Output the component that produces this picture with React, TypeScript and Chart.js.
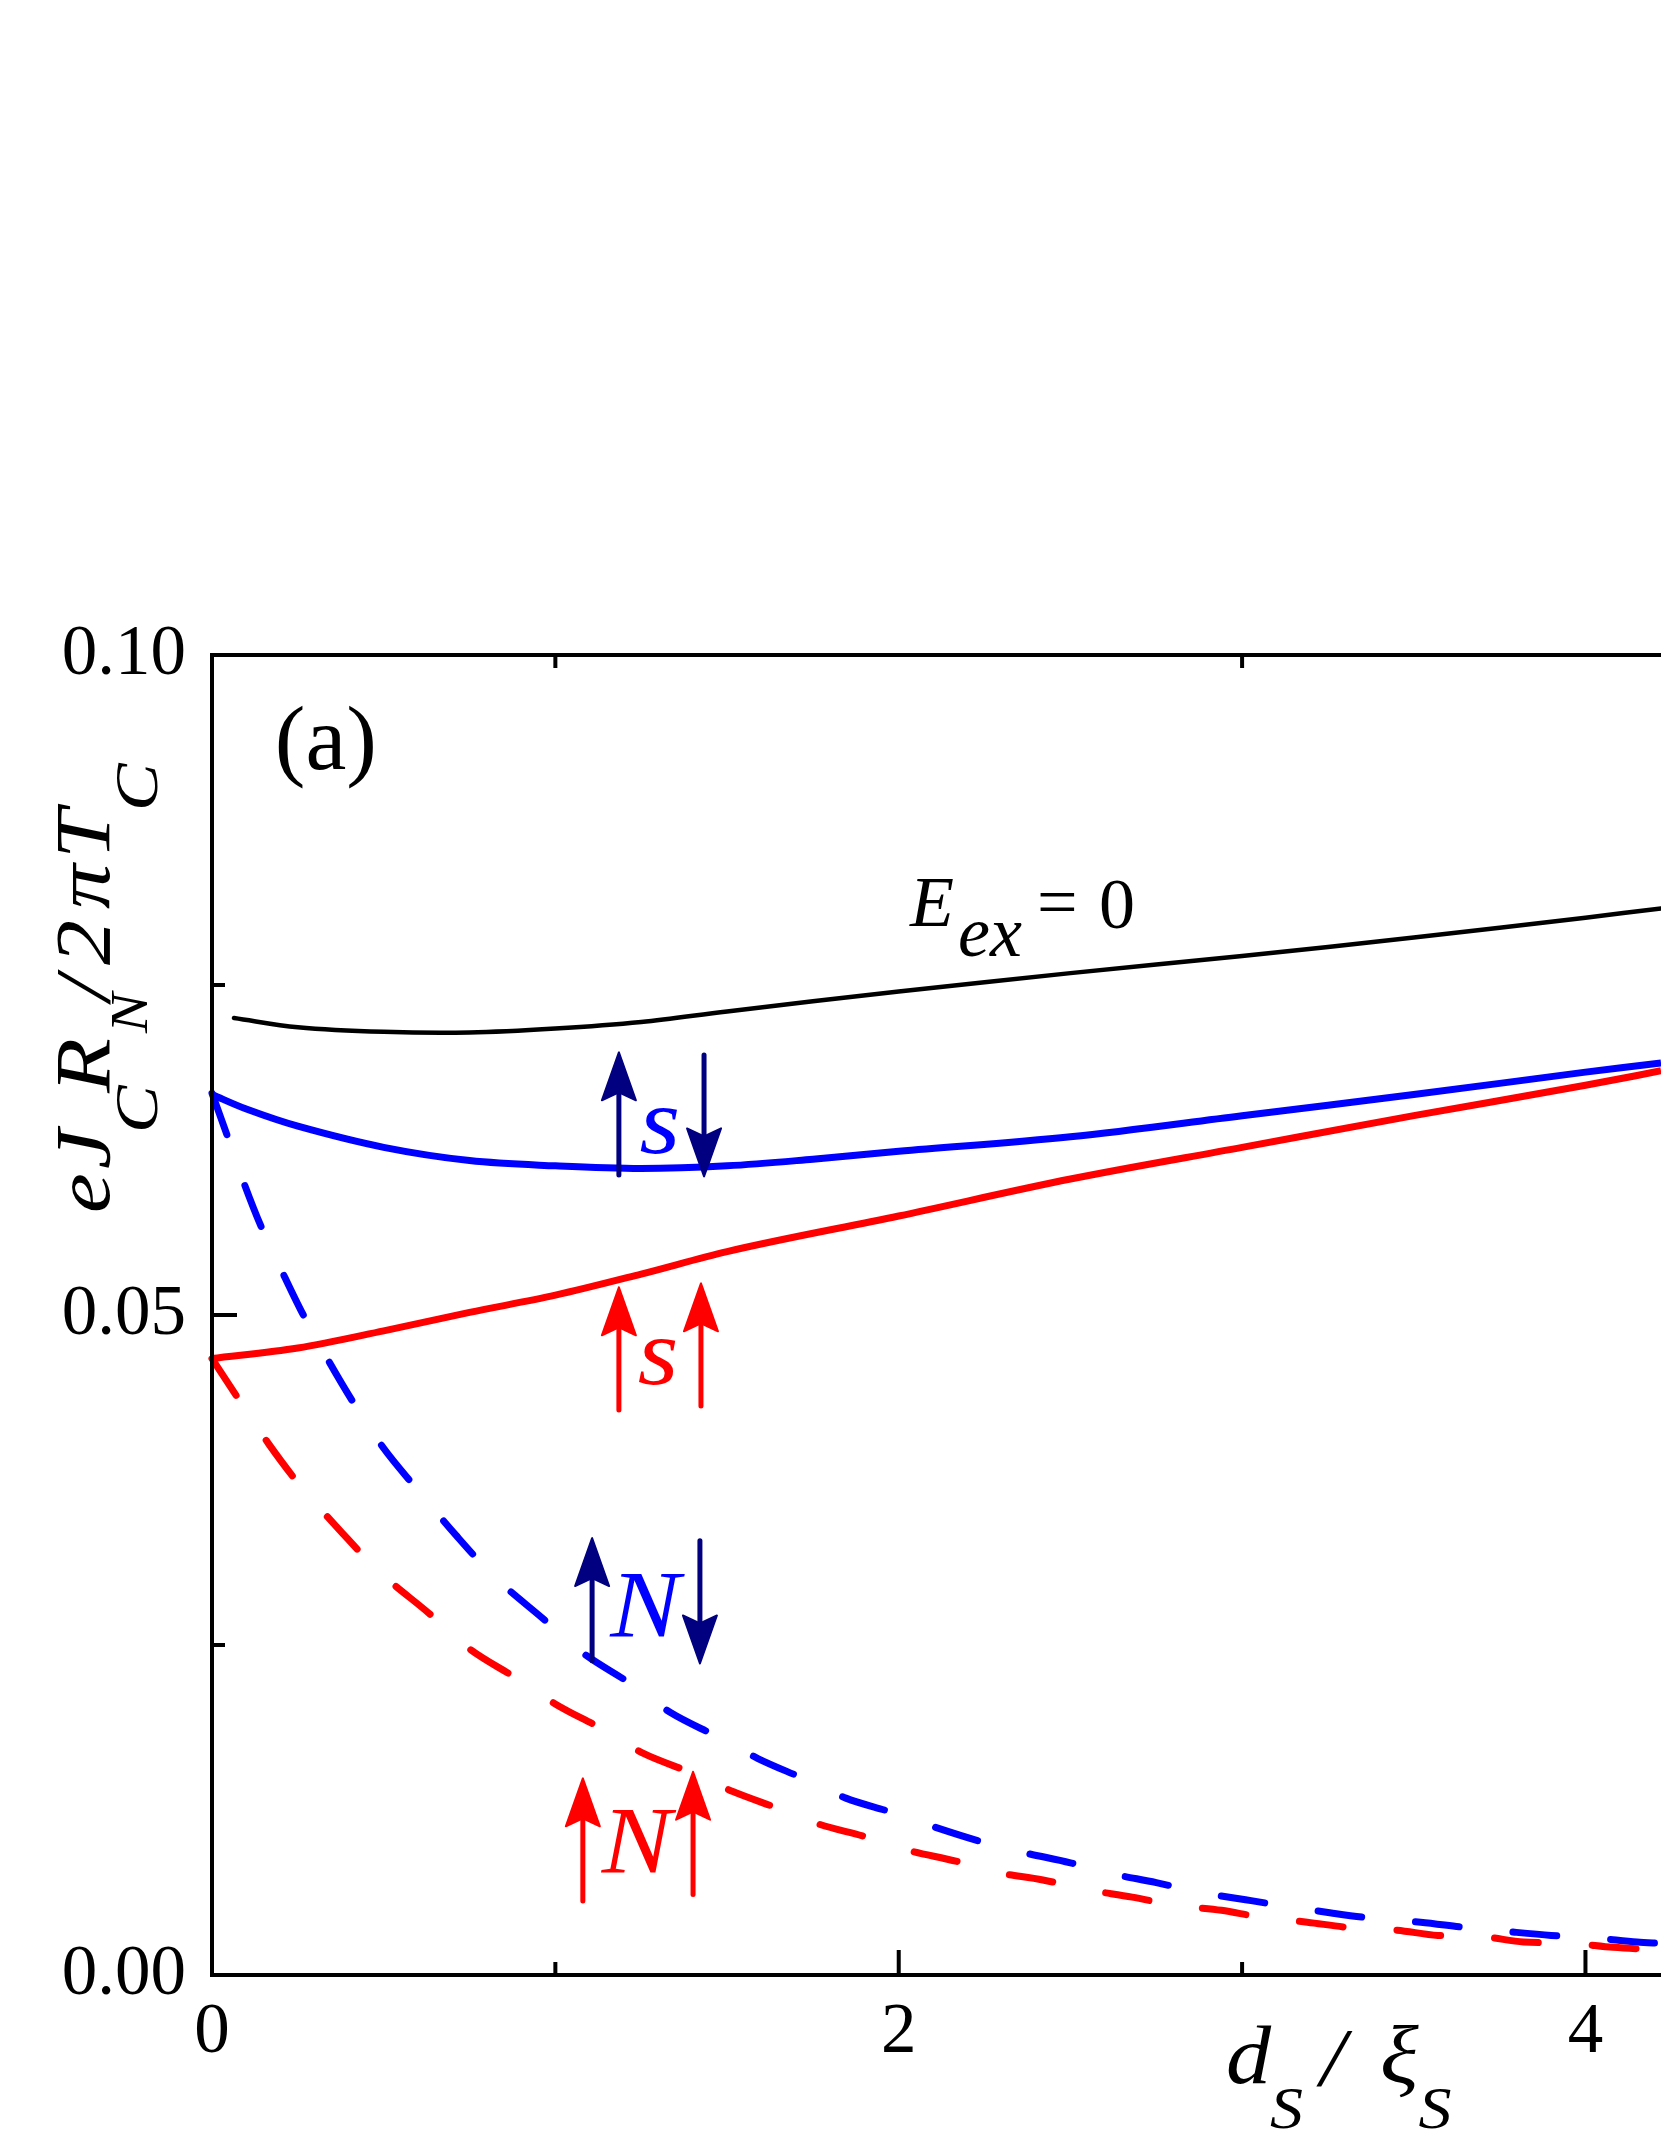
import React, { useEffect, useRef } from 'react';
import { Chart, registerables } from 'chart.js';

Chart.register(...registerables);

// ---------- axis ranges & ticks ----------
const X_MIN = 0;
const X_MAX = 4.22;
const Y_MIN = 0;
const Y_MAX = 0.1;
const xMajorTicks = [0, 2, 4];
const xMinorTicks = [1, 3];
const xTopTicks = [1, 3];
const yMajorTicks = [0, 0.05, 0.1];
const yMinorTicks = [0.025, 0.075];
const yTickLabels = ['0.00', '0.05', '0.10'];
const xTickLabels = ['0', '2', '4'];

// ---------- data ----------
// E_ex = 0 (black)
const blackX = [0.064, 0.25, 0.5, 0.75, 1.0, 1.25, 1.5, 2.0, 2.5, 3.0, 3.5, 4.0, 4.22];
const blackY = [0.0725, 0.0718, 0.07145, 0.0714, 0.0717, 0.0722, 0.0730, 0.0745, 0.0759, 0.0772, 0.0786, 0.0801, 0.0808];

// blue solid (S, antiparallel)
const blueSolidX = [0, 0.1, 0.25, 0.5, 0.75, 1.0, 1.25, 1.5, 1.75, 2.0, 2.5, 3.0, 3.5, 4.0, 4.22];
const blueSolidY = [0.0667, 0.0656, 0.0643, 0.0627, 0.0617, 0.0613, 0.0611, 0.0613, 0.0618, 0.0624, 0.0635, 0.0651, 0.0667, 0.0684, 0.0691];

// red solid (S, parallel)
const redSolidX = [0, 0.25, 0.5, 0.75, 1.0, 1.25, 1.5, 2.0, 2.5, 3.0, 3.5, 4.0, 4.22];
const redSolidY = [0.0467, 0.0475, 0.0488, 0.0502, 0.0515, 0.0531, 0.0548, 0.0575, 0.0603, 0.0627, 0.0651, 0.0674, 0.0685];

// blue dashed (N, antiparallel)
const blueDashX = [0, 0.047, 0.093, 0.143, 0.204, 0.262, 0.338, 0.411, 0.50, 0.594, 0.711, 0.821, 0.964, 1.08, 1.217, 1.334, 1.476, 1.59, 1.73, 1.846, 1.983, 2.105, 2.24, 2.36, 2.5, 2.615, 2.75, 2.87, 3.01, 3.13, 3.26, 3.38, 3.52, 3.65, 3.77, 3.9, 4.03, 4.15, 4.22];
const blueDashY = [0.0668, 0.0634, 0.0600, 0.0567, 0.0533, 0.0502, 0.0466, 0.0434, 0.0399, 0.0369, 0.0333, 0.0302, 0.0270, 0.0244, 0.0221, 0.0199, 0.0180, 0.0164, 0.0148, 0.0134, 0.0123, 0.0112, 0.0101, 0.0093, 0.0085, 0.0077, 0.0070, 0.0063, 0.0057, 0.0052, 0.0047, 0.0043, 0.0040, 0.0036, 0.0033, 0.0030, 0.0028, 0.0025, 0.0024];

// red dashed (N, parallel)
const redDashX = [0, 0.073, 0.166, 0.256, 0.379, 0.489, 0.632, 0.745, 0.885, 1.002, 1.139, 1.255, 1.398, 1.517, 1.651, 1.771, 1.9, 2.02, 2.17, 2.28, 2.42, 2.54, 2.68, 2.8, 2.94, 3.05, 3.19, 3.31, 3.45, 3.57, 3.7, 3.82, 3.96, 4.08, 4.22];
const redDashY = [0.0467, 0.0438, 0.0402, 0.0371, 0.0335, 0.0305, 0.0274, 0.0248, 0.0225, 0.0205, 0.0186, 0.0168, 0.0153, 0.0139, 0.0126, 0.0114, 0.0105, 0.0095, 0.0086, 0.0078, 0.0072, 0.0065, 0.0059, 0.0053, 0.0049, 0.0044, 0.0040, 0.0036, 0.0034, 0.0030, 0.0029, 0.0025, 0.0024, 0.0021, 0.0019];

// arrows: x, tail y, tip y, colour
const arrowX = [1.185, 1.433, 1.185, 1.424, 1.107, 1.421, 1.08, 1.401];
const arrowTail = [0.0606, 0.0697, 0.0428, 0.0431, 0.0238, 0.0329, 0.0056, 0.0061];
const arrowTip = [0.0699, 0.0605, 0.0521, 0.0524, 0.0331, 0.0236, 0.0149, 0.0154];
const arrowColor = ['#000080', '#000080', '#ff0000', '#ff0000', '#000080', '#000080', '#ff0000', '#ff0000'];

// in-plot letters
const letterText = ['s', 's', 'N', 'N'];
const letterX = [1.245, 1.24, 1.16, 1.135];
const letterY = [0.0623, 0.0448, 0.0256, 0.0077];
const letterColor = ['#0000ff', '#ff0000', '#0000ff', '#ff0000'];

const SERIF = "'Liberation Serif', 'Times New Roman', Times, serif";

const pts = (xs: number[], ys: number[]) => xs.map((x, i) => ({ x, y: ys[i] }));
const near = (a: number, b: number) => Math.abs(a - b) < 1e-6;

function drawArrow(ctx: CanvasRenderingContext2D, x: number, y0: number, y1: number, color: string) {
  const dir = Math.sign(y1 - y0);
  const headLen = 48;
  const half = 17;
  const notch = 8;
  ctx.save();
  ctx.strokeStyle = color;
  ctx.fillStyle = color;
  ctx.lineWidth = 5;
  ctx.lineCap = 'round';
  ctx.beginPath();
  ctx.moveTo(x, y0);
  ctx.lineTo(x, y1 - dir * (headLen - notch));
  ctx.stroke();
  ctx.beginPath();
  ctx.moveTo(x, y1);
  ctx.lineTo(x - half, y1 - dir * headLen);
  ctx.lineTo(x, y1 - dir * (headLen - notch));
  ctx.lineTo(x + half, y1 - dir * headLen);
  ctx.closePath();
  ctx.fill();
  ctx.lineJoin = 'round';
  ctx.lineWidth = 2;
  ctx.stroke();
  ctx.restore();
}

const decoPlugin = {
  id: 'deco',
  afterDraw(chart: any) {
    const { ctx, chartArea } = chart;
    const { left, right, top, bottom } = chartArea;
    const xs = chart.scales.x;
    const ys = chart.scales.y;
    ctx.save();

    // frame (left, top, bottom)
    ctx.strokeStyle = '#000';
    ctx.lineWidth = 4;
    ctx.lineCap = 'square';
    ctx.beginPath();
    ctx.moveTo(right + 5, top);
    ctx.lineTo(left, top);
    ctx.lineTo(left, bottom);
    ctx.lineTo(right + 5, bottom);
    ctx.stroke();

    // inward ticks
    ctx.lineCap = 'butt';
    ctx.lineWidth = 4;
    ctx.beginPath();
    yMajorTicks.forEach((v) => {
      const py = ys.getPixelForValue(v);
      ctx.moveTo(left, py);
      ctx.lineTo(left + 25, py);
    });
    yMinorTicks.forEach((v) => {
      const py = ys.getPixelForValue(v);
      ctx.moveTo(left, py);
      ctx.lineTo(left + 13, py);
    });
    xMajorTicks.forEach((v) => {
      const px = xs.getPixelForValue(v);
      ctx.moveTo(px, bottom);
      ctx.lineTo(px, bottom - 25);
    });
    xMinorTicks.forEach((v) => {
      const px = xs.getPixelForValue(v);
      ctx.moveTo(px, bottom);
      ctx.lineTo(px, bottom - 13);
    });
    xTopTicks.forEach((v) => {
      const px = xs.getPixelForValue(v);
      ctx.moveTo(px, top);
      ctx.lineTo(px, top + 13);
    });
    ctx.stroke();

    // arrows
    arrowX.forEach((x, i) => {
      drawArrow(ctx, xs.getPixelForValue(x), ys.getPixelForValue(arrowTail[i]), ys.getPixelForValue(arrowTip[i]), arrowColor[i]);
    });

    // letters s / N
    ctx.textBaseline = 'alphabetic';
    ctx.textAlign = 'left';
    letterText.forEach((t, i) => {
      ctx.fillStyle = letterColor[i];
      ctx.save();
      ctx.translate(xs.getPixelForValue(letterX[i]), ys.getPixelForValue(letterY[i]));
      ctx.scale(1.1, 1);
      ctx.font = `italic 95px ${SERIF}`;
      ctx.fillText(t, 0, 0);
      ctx.restore();
    });

    // (a)
    ctx.fillStyle = '#000';
    ctx.font = `92px ${SERIF}`;
    ctx.fillText('(a)', xs.getPixelForValue(0.183), ys.getPixelForValue(0.0914));

    // E_ex = 0
    const ex0 = xs.getPixelForValue(2.033);
    const ey0 = ys.getPixelForValue(0.0795);
    ctx.font = `italic 72px ${SERIF}`;
    ctx.fillText('E', ex0, ey0);
    ctx.fillText('ex', ex0 + 48, ey0 + 30);
    ctx.font = `72px ${SERIF}`;
    ctx.fillText('=', ex0 + 127, ey0);
    ctx.fillText('0', ex0 + 189, ey0 + 2);

    // x title: d_S / ξ_S
    const bx = left + 1014;
    const by = bottom + 108;
    ctx.save();
    ctx.translate(bx, by);
    ctx.scale(1.1, 1);
    ctx.font = `italic 82px ${SERIF}`;
    ctx.fillText('d', 0, 0);
    ctx.fillText('/', 86, 2);
    ctx.fillText('ξ', 140, 0);
    ctx.font = `italic 60px ${SERIF}`;
    ctx.fillText('S', 40, 45);
    ctx.fillText('S', 175, 45);
    ctx.restore();

    // y title: eJ_C R_N / 2πT_C  (rotated)
    ctx.save();
    ctx.translate(left - 103, top + 558);
    ctx.rotate(-Math.PI / 2);
    const pieces: [string, number, number, number][] = [
      ['e', 0, 78, 0],
      ['J', 44, 78, 0],
      ['C', 80, 62, 48],
      ['R', 120, 78, 0],
      ['N', 180, 52, 38],
      ['/', 212, 78, 0],
      ['2', 248, 78, 0],
      ['π', 304, 78, 0],
      ['T', 354, 78, 0],
      ['C', 402, 62, 48],
    ];
    pieces.forEach(([t, at, size, shift]) => {
      ctx.save();
      ctx.translate(at, shift);
      ctx.scale(1.15, 1);
      ctx.font = `italic ${size}px ${SERIF}`;
      ctx.fillText(t, 0, 0);
      ctx.restore();
    });
    ctx.restore();

    ctx.restore();
  },
};

export default function App() {
  const ref = useRef<HTMLCanvasElement>(null);
  useEffect(() => {
    const canvas = ref.current;
    if (!canvas) return;
    const common = { pointRadius: 0, fill: false, borderJoinStyle: 'round', clip: false };
    const chart = new Chart(canvas, {
      type: 'line',
      data: {
        datasets: [
          { ...common, label: 'N parallel', data: pts(redDashX, redDashY), borderColor: '#ff0000', borderWidth: 7, borderDash: [44, 54], borderCapStyle: 'round', cubicInterpolationMode: 'monotone' },
          { ...common, label: 'N antiparallel', data: pts(blueDashX, blueDashY), borderColor: '#0000ff', borderWidth: 7, borderDash: [44, 54], borderCapStyle: 'round', cubicInterpolationMode: 'monotone' },
          { ...common, label: 'S parallel', data: pts(redSolidX, redSolidY), borderColor: '#ff0000', borderWidth: 7, borderCapStyle: 'butt', cubicInterpolationMode: 'monotone' },
          { ...common, label: 'S antiparallel', data: pts(blueSolidX, blueSolidY), borderColor: '#0000ff', borderWidth: 7, borderCapStyle: 'butt', tension: 0.35 },
          { ...common, label: 'Eex=0', data: pts(blackX, blackY), borderColor: '#000000', borderWidth: 4.5, borderCapStyle: 'round', tension: 0.35 },
        ] as any,
      },
      options: {
        animation: false,
        responsive: false,
        devicePixelRatio: 1,
        layout: { padding: { top: 655, right: 0, left: 0, bottom: 0 } },
        plugins: { legend: { display: false }, tooltip: { enabled: false }, title: { display: false } },
        scales: {
          x: {
            type: 'linear',
            min: X_MIN,
            max: X_MAX,
            afterBuildTicks: (s: any) => {
              s.ticks = [...xMajorTicks, ...xMinorTicks].sort((a, b) => a - b).map((v) => ({ value: v }));
            },
            afterFit: (s: any) => {
              s.height = 174;
            },
            grid: { display: false, drawTicks: false },
            border: { display: false },
            ticks: {
              autoSkip: false,
              maxRotation: 0,
              minRotation: 0,
              padding: 16,
              color: '#000',
              font: { family: SERIF, size: 71 },
              callback: (v: any) => {
                const i = xMajorTicks.findIndex((m) => near(m, Number(v)));
                return i >= 0 ? xTickLabels[i] : '';
              },
            },
          },
          y: {
            type: 'linear',
            min: Y_MIN,
            max: Y_MAX,
            afterBuildTicks: (s: any) => {
              s.ticks = [...yMajorTicks, ...yMinorTicks].sort((a, b) => a - b).map((v) => ({ value: v }));
            },
            afterFit: (s: any) => {
              s.width = 212;
            },
            grid: { display: false, drawTicks: false },
            border: { display: false },
            ticks: {
              autoSkip: false,
              padding: 26,
              color: '#000',
              font: { family: SERIF, size: 71 },
              callback: (v: any) => {
                const i = yMajorTicks.findIndex((m) => near(m, Number(v)));
                return i >= 0 ? yTickLabels[i] : '';
              },
            },
          },
        },
      },
      plugins: [decoPlugin],
    } as any);
    return () => chart.destroy();
  }, []);
  return (
    <div style={{ position: 'absolute', left: 0, top: 0, width: 1661, height: 2149, overflow: 'hidden', background: '#fff' }}>
      <canvas ref={ref} width={1661} height={2149} style={{ display: 'block', width: 1661, height: 2149 }} />
    </div>
  );
}
